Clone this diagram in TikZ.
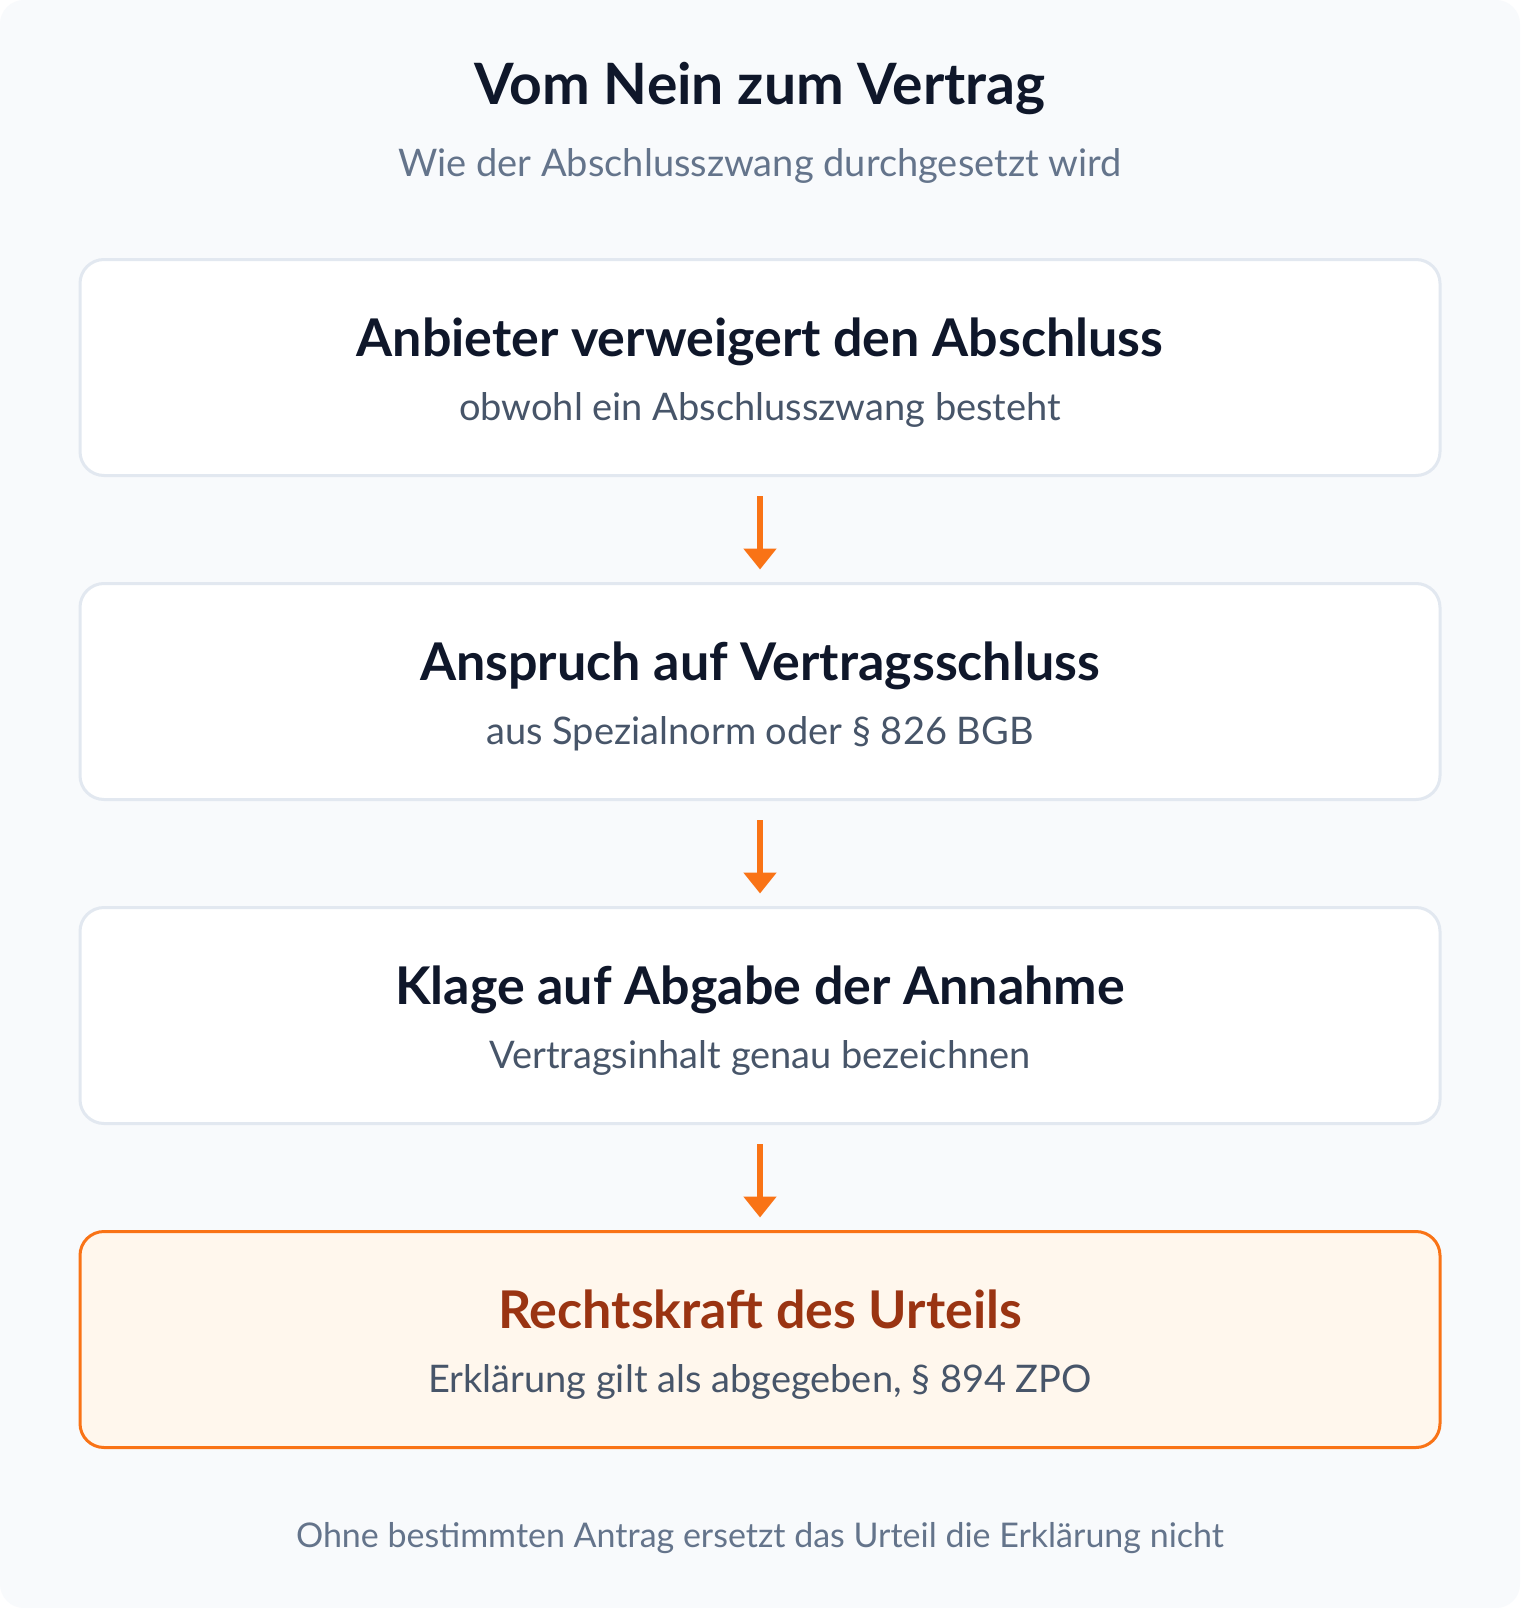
\documentclass[tikz,border=0pt]{standalone}
\usepackage{fontspec}
\setmainfont{Lato}
\usetikzlibrary{arrows.meta}
\definecolor{bgc}{HTML}{F8FAFC}
\definecolor{titlec}{HTML}{0F172A}
\definecolor{subc}{HTML}{64748B}
\definecolor{boxsubc}{HTML}{475569}
\definecolor{borderc}{HTML}{E2E8F0}
\definecolor{orangec}{HTML}{F97316}
\definecolor{orangefill}{HTML}{FFF7ED}
\definecolor{orangetext}{HTML}{9A3412}
\tikzset{
  stepbox/.style={draw=borderc, line width=3pt, fill=white, rounded corners=24pt,
    minimum width=1360pt, minimum height=216pt, inner sep=0pt},
  finalbox/.style={stepbox, draw=orangec, fill=orangefill},
  boxtitle/.style={anchor=base, inner sep=0pt, text=titlec, font=\fontsize{52}{60}\selectfont\bfseries},
  boxsub/.style={anchor=base, inner sep=0pt, text=boxsubc, font=\fontsize{38}{44}\selectfont},
  flow/.style={draw=orangec, line width=6pt, -{Triangle[width=32pt,length=21pt]},
    shorten <=19pt, shorten >=12.5pt},
}
\begin{document}
\begin{tikzpicture}[x=1pt,y=-1pt]
\useasboundingbox (0,0) rectangle (1520,1608);
\fill[white] (0,0) rectangle (1520,1608);
\fill[bgc, rounded corners=24pt] (0,0) rectangle (1520,1608);

\node[anchor=base, inner sep=0pt, text=titlec, font=\fontsize{57}{66}\selectfont\bfseries] (title) at (760,105) {Vom Nein zum Vertrag};
\node[anchor=base, inner sep=0pt, text=subc, font=\fontsize{38}{44}\selectfont] (subtitle) at (760,176.5) {Wie der Abschlusszwang durchgesetzt wird};

\node[stepbox] (b1) at (760,367.5) {};
\node[stepbox] (b2) at (760,691.5) {};
\node[stepbox] (b3) at (760,1015.5) {};
\node[finalbox] (b4) at (760,1339.5) {};

\node[boxtitle] (t1) at (760,356.5) {Anbieter verweigert den Abschluss};
\node[boxsub] (s1) at (760,420.5) {obwohl ein Abschlusszwang besteht};
\node[boxtitle] (t2) at (760,680.5) {Anspruch auf Vertragsschluss};
\node[boxsub] (s2) at (760,744.5) {aus Spezialnorm oder § 826 BGB};
\node[boxtitle] (t3) at (760,1004.5) {Klage auf Abgabe der Annahme};
\node[boxsub] (s3) at (760,1068.5) {Vertragsinhalt genau bezeichnen};
\node[boxtitle, text=orangetext] (t4) at (760,1328.5) {Rechtskraft des Urteils};
\node[boxsub] (s4) at (760,1392.5) {Erklärung gilt als abgegeben, § 894 ZPO};

\draw[flow] (b1.south) -- (b2.north);
\draw[flow] (b2.south) -- (b3.north);
\draw[flow] (b3.south) -- (b4.north);

\node[anchor=base, inner sep=0pt, text=subc, font=\fontsize{34}{40}\selectfont] (footer) at (760,1547) {Ohne bestimmten Antrag ersetzt das Urteil die Erklärung nicht};
\end{tikzpicture}
\end{document}
